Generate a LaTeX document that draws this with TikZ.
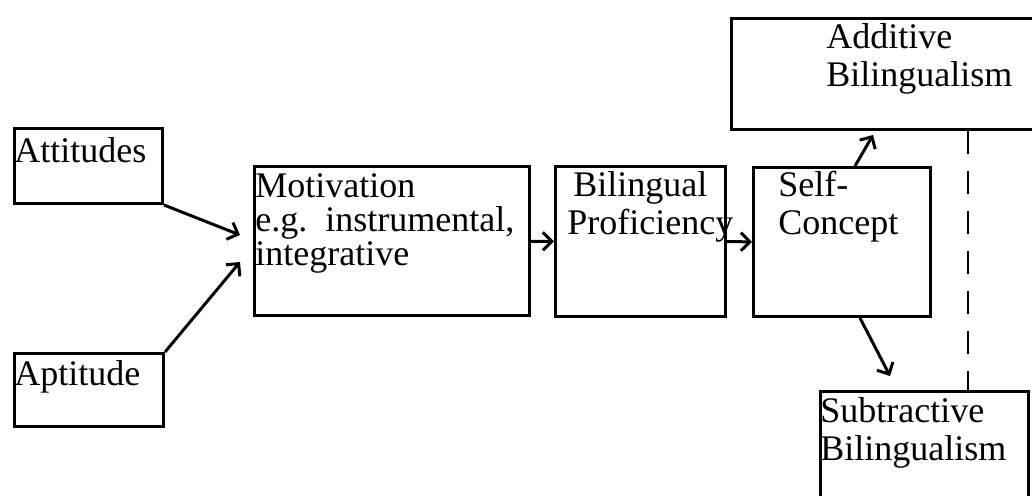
\documentclass[tikz,border=0pt]{standalone}
\usepackage{fontspec}
\setmainfont{Liberation Serif}
\usetikzlibrary{arrows.meta}
\tikzset{
	node_box/.style = {
		rectangle,
		draw=black,
		line width=1.5pt,
		inner sep=0pt,
		anchor=north west
	},
	node_txt/.style = {
		align=left,
		inner sep=0pt,
		anchor=base west,
		font=\fontsize{18}{19}\selectfont
	},
	node_txt_tight/.style = {
		node_txt,
		font=\fontsize{18}{17.2}\selectfont
	},
	link/.style = {
		->,
		line width=1.5pt
	},
	link_dash/.style = {
		line width=1.2pt,
		dash pattern=on 11.5pt off 8.5pt
	}
}
\begin{document}
\begin{tikzpicture}[x=0.5pt,y=-0.5pt,>={Straight Barb[length=4.5pt,width=9pt]}]
\useasboundingbox (0,0) rectangle (1032,496);
% boxes
\node [node_box, minimum width=74pt, minimum height=37.5pt] (attitudes) at (13,127) {};
\node [node_box, minimum width=74.5pt, minimum height=36.5pt] (aptitude) at (13,352) {};
\node [node_box, minimum width=137.5pt, minimum height=74.5pt] (motivation) at (253,165) {};
\node [node_box, minimum width=85pt, minimum height=75pt] (proficiency) at (554,165) {};
\node [node_box, minimum width=88.5pt, minimum height=74.5pt] (selfconcept) at (752,166) {};
\node [node_box, minimum width=160pt, minimum height=55.5pt] (additive) at (730,17) {};
\node [node_box, minimum width=104pt, minimum height=60pt] (subtractive) at (819,390) {};
% texts (anchored on the last baseline)
\node [node_txt] (t_attitudes) at (14,163) {Attitudes};
\node [node_txt] (t_aptitude) at (14,386) {Aptitude};
\node [node_txt_tight] (t_motivation) at (255,266) {Motivation\\e.g.\ \ instrumental,\\integrative};
\node [node_txt] (t_proficiency) at (567,235) {\hspace{3pt}Bilingual\\Proficiency};
\node [node_txt] (t_selfconcept) at (778,235) {Self-\\Concept};
\node [node_txt] (t_additive) at (826,87) {Additive\\Bilingualism};
\node [node_txt] (t_subtractive) at (820,460) {Subtractive\\Bilingualism};
% free ends
\coordinate (mot_in_a) at (240,235);
\coordinate (mot_in_b) at (240,262);
\coordinate (add_in) at (873,135);
\coordinate (sub_in) at (890,376);
% connectors
\draw [link] (attitudes.south east) -- (mot_in_a);
\draw [link] (aptitude.north east) -- (mot_in_b);
\draw [link] (motivation) -- (proficiency);
\draw [link] (proficiency) -- (selfconcept);
\draw [link] ([xshift=51.5pt]selfconcept.north west) -- (add_in);
\draw [link] ([xshift=54pt]selfconcept.south west) -- (sub_in);
\draw [link_dash] ([xshift=119pt]additive.south west) -- ([xshift=74.5pt]subtractive.north west);
\end{tikzpicture}
\end{document}
